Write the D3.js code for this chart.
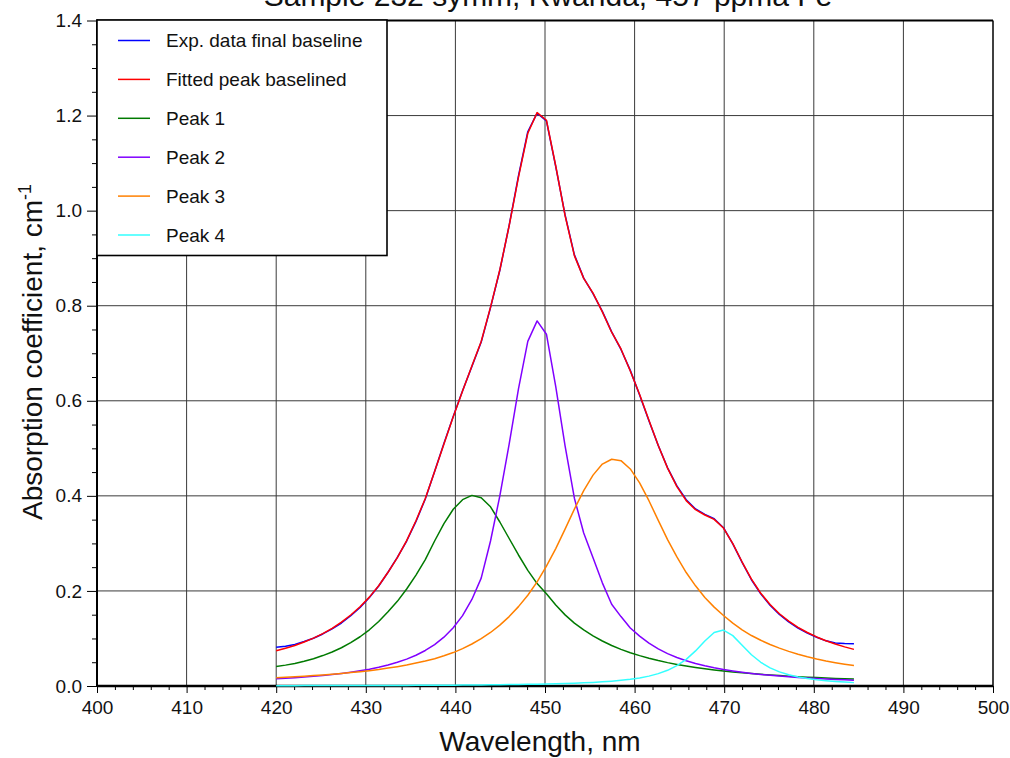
<!DOCTYPE html>
<html>
<head>
<meta charset="utf-8">
<script src="https://cdn.jsdelivr.net/npm/d3@7"></script>
<style>
  html, body { margin: 0; padding: 0; background: #ffffff; }
  svg { display: block; font-family: "Liberation Sans", Arial, Helvetica, sans-serif; }
</style>
</head>
<body>
<svg id="chart" width="1010" height="758"></svg>
<script>
// Wavelength grid of the spectrum (nm)
const wavelengths = [
  420.00, 421.04, 422.08, 423.12, 424.16, 425.20, 426.24, 427.28, 428.32, 429.36,
  430.40, 431.44, 432.48, 433.52, 434.56, 435.60, 436.64, 437.68, 438.72, 439.76,
  440.80, 441.84, 442.88, 443.92, 444.96, 446.00, 447.04, 448.08, 449.12, 450.16,
  451.20, 452.24, 453.28, 454.32, 455.36, 456.40, 457.44, 458.48, 459.52, 460.56,
  461.60, 462.64, 463.68, 464.72, 465.76, 466.80, 467.84, 468.88, 469.92, 470.96,
  472.00, 473.04, 474.08, 475.12, 476.16, 477.20, 478.24, 479.28, 480.32, 481.36,
  482.40, 483.44, 484.48
];

// Measured absorption after final baseline (cm^-1)
const expData = [
  0.0815, 0.0835, 0.0875, 0.0935, 0.1004, 0.1095, 0.1200, 0.1325, 0.1478, 0.1652,
  0.1862, 0.2104, 0.2393, 0.2705, 0.3050, 0.3462, 0.3935, 0.4510, 0.5100, 0.5672,
  0.6210, 0.6720, 0.7235, 0.7960, 0.8745, 0.9690, 1.0730, 1.1660, 1.2050, 1.1890,
  1.0925, 0.9910, 0.9070, 0.8580, 0.8255, 0.7880, 0.7450, 0.7080, 0.6640, 0.6120,
  0.5580, 0.5060, 0.4590, 0.4210, 0.3920, 0.3725, 0.3610, 0.3520, 0.3330, 0.2990,
  0.2600, 0.2235, 0.1938, 0.1700, 0.1505, 0.1350, 0.1220, 0.1112, 0.1025, 0.0950,
  0.0905, 0.0893, 0.0890
];

// Fitted envelope (sum of the four component peaks)
const fittedPeak = [
  0.0741, 0.0794, 0.0851, 0.0926, 0.1006, 0.1103, 0.1214, 0.1342, 0.1493, 0.1667,
  0.1870, 0.2109, 0.2392, 0.2699, 0.3059, 0.3476, 0.3946, 0.4512, 0.5093, 0.5664,
  0.6206, 0.6734, 0.7248, 0.7971, 0.8757, 0.9682, 1.0707, 1.1628, 1.2062, 1.1902,
  1.0939, 0.9898, 0.9053, 0.8575, 0.8265, 0.7871, 0.7443, 0.7090, 0.6627, 0.6132,
  0.5592, 0.5059, 0.4583, 0.4195, 0.3899, 0.3709, 0.3597, 0.3506, 0.3323, 0.2994,
  0.2608, 0.2247, 0.1951, 0.1713, 0.1520, 0.1366, 0.1235, 0.1126, 0.1032, 0.0952,
  0.0884, 0.0823, 0.0770
];

// Component peaks
const peak1 = [
  0.0408, 0.0439, 0.0475, 0.0522, 0.0575, 0.0640, 0.0716, 0.0805, 0.0911, 0.1036,
  0.1182, 0.1357, 0.1561, 0.1781, 0.2040, 0.2333, 0.2659, 0.3050, 0.3414, 0.3718,
  0.3920, 0.4010, 0.3960, 0.3770, 0.3450, 0.3103, 0.2756, 0.2433, 0.2154, 0.1940,
  0.1702, 0.1496, 0.1324, 0.1179, 0.1053, 0.0946, 0.0852, 0.0771, 0.0700, 0.0639,
  0.0584, 0.0535, 0.0492, 0.0454, 0.0420, 0.0390, 0.0363, 0.0338, 0.0316, 0.0296,
  0.0278, 0.0262, 0.0246, 0.0232, 0.0219, 0.0207, 0.0196, 0.0186, 0.0177, 0.0168,
  0.0160, 0.0153, 0.0146
];
const peak2 = [
  0.0151, 0.0163, 0.0174, 0.0189, 0.0204, 0.0222, 0.0242, 0.0264, 0.0290, 0.0320,
  0.0354, 0.0394, 0.0442, 0.0498, 0.0565, 0.0647, 0.0747, 0.0871, 0.1027, 0.1225,
  0.1480, 0.1820, 0.2270, 0.3050, 0.4000, 0.5090, 0.6250, 0.7250, 0.7680, 0.7400,
  0.6300, 0.5050, 0.3950, 0.3220, 0.2700, 0.2170, 0.1720, 0.1460, 0.1220, 0.1050,
  0.0902, 0.0780, 0.0681, 0.0599, 0.0531, 0.0474, 0.0425, 0.0383, 0.0347, 0.0316,
  0.0289, 0.0265, 0.0244, 0.0225, 0.0208, 0.0194, 0.0180, 0.0168, 0.0157, 0.0147,
  0.0139, 0.0130, 0.0123
];
const peak3 = [
  0.0175, 0.0185, 0.0195, 0.0207, 0.0219, 0.0233, 0.0247, 0.0264, 0.0282, 0.0301,
  0.0323, 0.0347, 0.0377, 0.0407, 0.0441, 0.0482, 0.0525, 0.0575, 0.0635, 0.0703,
  0.0786, 0.0883, 0.0995, 0.1126, 0.1280, 0.1460, 0.1670, 0.1910, 0.2190, 0.2520,
  0.2890, 0.3300, 0.3720, 0.4110, 0.4436, 0.4668, 0.4770, 0.4740, 0.4566, 0.4273,
  0.3898, 0.3484, 0.3080, 0.2715, 0.2387, 0.2107, 0.1862, 0.1659, 0.1484, 0.1322,
  0.1183, 0.1062, 0.0962, 0.0874, 0.0796, 0.0729, 0.0668, 0.0615, 0.0567, 0.0526,
  0.0490, 0.0458, 0.0430
];
const peak4 = [
  0.0007, 0.0007, 0.0007, 0.0008, 0.0008, 0.0008, 0.0009, 0.0009, 0.0010, 0.0010,
  0.0011, 0.0011, 0.0012, 0.0013, 0.0013, 0.0014, 0.0015, 0.0016, 0.0017, 0.0018,
  0.0020, 0.0021, 0.0023, 0.0025, 0.0027, 0.0029, 0.0031, 0.0035, 0.0038, 0.0042,
  0.0047, 0.0052, 0.0059, 0.0066, 0.0076, 0.0087, 0.0101, 0.0119, 0.0141, 0.0170,
  0.0208, 0.0260, 0.0330, 0.0427, 0.0561, 0.0738, 0.0947, 0.1126, 0.1176, 0.1060,
  0.0858, 0.0658, 0.0499, 0.0382, 0.0297, 0.0236, 0.0191, 0.0157, 0.0131, 0.0111,
  0.0095, 0.0082, 0.0071
];

const seriesNames = ["Exp. data final baseline", "Fitted peak baselined", "Peak 1", "Peak 2", "Peak 3", "Peak 4"];
const seriesColors = ["#0000ff", "#ff0000", "#007a00", "#8000ff", "#ff8000", "#33ffff"];
const seriesValues = [expData, fittedPeak, peak1, peak2, peak3, peak4];

const xTicks = [400, 410, 420, 430, 440, 450, 460, 470, 480, 490, 500];
const yTicks = [0.0, 0.2, 0.4, 0.6, 0.8, 1.0, 1.2, 1.4];

const titleText = "Sample 232 symm, Rwanda, 457 ppma Fe";
const xTitle = "Wavelength, nm";
const yTitle = "Absorption coefficient, cm";
const yTitleSup = "-1";

(function draw() {
  // plot area edges
  const pLeft = 97, pRight = 993, pTop = 20.5, pBottom = 686;
  const fontFam = "\"Liberation Sans\", Arial, sans-serif";

  const svg = d3.select("#chart");
  const x = d3.scaleLinear().domain([400, 500]).range([pLeft, pRight]);
  const y = d3.scaleLinear().domain([0, 1.4]).range([pBottom, pTop]);

  // grid
  const grid = svg.append("g").attr("stroke", "#3a3a3a").attr("stroke-width", 1);
  grid.selectAll("line.gx").data(xTicks.slice(1, -1)).join("line")
    .attr("class", "gx")
    .attr("x1", d => x(d)).attr("x2", d => x(d))
    .attr("y1", pTop).attr("y2", pBottom);
  grid.selectAll("line.gy").data(yTicks.slice(1, -1)).join("line")
    .attr("class", "gy")
    .attr("x1", pLeft).attr("x2", pRight)
    .attr("y1", d => y(d)).attr("y2", d => y(d));

  // minor ticks
  const xMinor = d3.range(400, 500.01, 2).filter(v => v % 10 !== 0);
  const yMinor = d3.range(0, 1.4001, 0.05).filter(v => Math.abs(Math.round(v / 0.2) * 0.2 - v) > 1e-6);

  svg.append("g").attr("transform", `translate(0,${pBottom})`)
    .call(d3.axisBottom(x).tickValues(xMinor).tickSize(4).tickFormat(""))
    .call(g => g.select(".domain").remove())
    .call(g => g.selectAll("line").attr("stroke", "#000"));
  svg.append("g").attr("transform", `translate(${pLeft},0)`)
    .call(d3.axisLeft(y).tickValues(yMinor).tickSize(5).tickFormat(""))
    .call(g => g.select(".domain").remove())
    .call(g => g.selectAll("line").attr("stroke", "#000"));

  // major axes
  svg.append("g").attr("transform", `translate(0,${pBottom})`)
    .call(d3.axisBottom(x).tickValues(xTicks).tickSize(7).tickPadding(8).tickFormat(d3.format("d")))
    .call(g => g.select(".domain").remove())
    .call(g => g.selectAll("line").attr("stroke", "#000"))
    .call(g => g.selectAll("text").attr("font-size", 19).attr("fill", "#111").attr("font-family", fontFam));
  svg.append("g").attr("transform", `translate(${pLeft},0)`)
    .call(d3.axisLeft(y).tickValues(yTicks).tickSize(10).tickPadding(5).tickFormat(d3.format(".1f")))
    .call(g => g.select(".domain").remove())
    .call(g => g.selectAll("line").attr("stroke", "#000"))
    .call(g => g.selectAll("text").attr("font-size", 19).attr("fill", "#111").attr("font-family", fontFam));

  // plot frame
  svg.append("line").attr("x1", pLeft).attr("x2", pRight).attr("y1", pTop).attr("y2", pTop)
    .attr("stroke", "#000").attr("stroke-width", 2);
  svg.append("line").attr("x1", pRight).attr("x2", pRight).attr("y1", pTop).attr("y2", pBottom)
    .attr("stroke", "#000").attr("stroke-width", 1.5);
  svg.append("line").attr("x1", pLeft).attr("x2", pLeft).attr("y1", pTop - 1).attr("y2", pBottom)
    .attr("stroke", "#000").attr("stroke-width", 2);
  svg.append("line").attr("x1", pLeft).attr("x2", pRight).attr("y1", pBottom).attr("y2", pBottom)
    .attr("stroke", "#000").attr("stroke-width", 2.5);

  // curves
  const line = d3.line().x((d, i) => x(wavelengths[i])).y(d => y(d));
  svg.append("g").selectAll("path").data(seriesValues).join("path")
    .attr("d", d => line(d))
    .attr("fill", "none")
    .attr("stroke", (d, i) => seriesColors[i])
    .attr("stroke-width", 1.5)
    .attr("stroke-linejoin", "round");

  // legend
  const legend = svg.append("g");
  legend.append("rect")
    .attr("x", pLeft).attr("y", pTop - 0.5)
    .attr("width", 290).attr("height", 235.5)
    .attr("fill", "#fff").attr("stroke", "#000").attr("stroke-width", 1.6);
  const rowY = d3.scaleLinear().domain([0, 5]).range([40.5, 235]);
  const items = legend.selectAll("g.item").data(seriesNames).join("g").attr("class", "item")
    .attr("transform", (d, i) => `translate(0,${rowY(i)})`);
  items.append("line").attr("x1", 118).attr("x2", 150).attr("y1", 0).attr("y2", 0)
    .attr("stroke", (d, i) => seriesColors[i]).attr("stroke-width", 1.5);
  items.append("text").attr("x", 166).attr("y", 6.8)
    .attr("font-size", 19).attr("fill", "#111").text(d => d);

  // titles
  svg.append("text").attr("x", 548).attr("y", 6)
    .attr("text-anchor", "middle").attr("font-size", 30).attr("fill", "#111")
    .text(titleText);

  svg.append("text").attr("x", 540).attr("y", 751)
    .attr("text-anchor", "middle").attr("font-size", 28).attr("fill", "#111")
    .text(xTitle);

  const yt = svg.append("text")
    .attr("transform", "translate(42,352) rotate(-90)")
    .attr("text-anchor", "middle").attr("font-size", 28).attr("fill", "#111");
  yt.append("tspan").text(yTitle);
  yt.append("tspan").attr("font-size", 18).attr("dy", -11).text(yTitleSup);
})();
</script>
</body>
</html>
